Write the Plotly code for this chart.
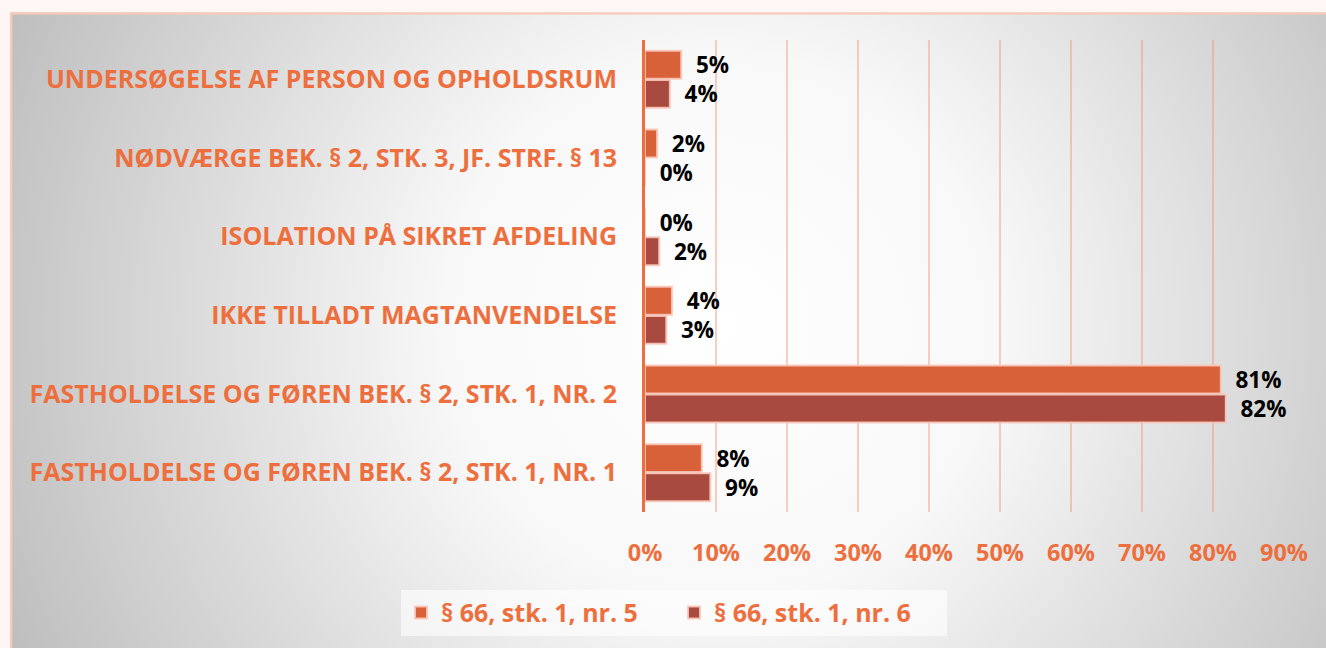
import base64
import plotly.graph_objects as go

categories = [
    "UNDERSØGELSE AF PERSON OG OPHOLDSRUM",
    "NØDVÆRGE BEK. § 2, STK. 3, JF. STRF. § 13",
    "ISOLATION PÅ SIKRET AFDELING",
    "IKKE TILLADT MAGTANVENDELSE",
    "FASTHOLDELSE OG FØREN BEK. § 2, STK. 1, NR. 2",
    "FASTHOLDELSE OG FØREN BEK. § 2, STK. 1, NR. 1",
]
series_names = ["§ 66, stk. 1, nr. 5", "§ 66, stk. 1, nr. 6"]
nr5_values = [5.1, 1.7, 0.0, 3.8, 81.1, 8.0]
nr6_values = [3.5, 0.0, 2.0, 3.0, 81.8, 9.2]
x_ticks = [0, 10, 20, 30, 40, 50, 60, 70, 80, 90]
x_tick_labels = ["0%", "10%", "20%", "30%", "40%", "50%", "60%", "70%", "80%", "90%"]

W, H = 1326, 648
L, R, T, B = 645, 42, 40, 130
pw, ph = W - L - R, H - T - B

ORANGE = "#ee6f3e"
C1 = "#d9613a"
C2 = "#a84a40"
FONT = "Open Sans, Lato, sans-serif"

# background gradient panel (x 10..right edge, y 12..bottom edge, extended past the page)
bx0, by0 = 10, 12
bw, bh = W - bx0 + 10, H - by0 + 10
svg = f'''<svg xmlns="http://www.w3.org/2000/svg" width="{bw}" height="{bh}" viewBox="0 0 {bw} {bh}">
<defs><radialGradient id="g" gradientUnits="userSpaceOnUse" cx="710" cy="318" r="790">
<stop offset="0" stop-color="#ffffff"/><stop offset="0.35" stop-color="#f8f8f8"/>
<stop offset="1" stop-color="#bdbdbd"/></radialGradient></defs>
<rect x="0" y="0" width="{bw}" height="{bh}" fill="url(#g)"/>
<rect x="1" y="1" width="{bw+4}" height="{bh+4}" fill="none" stroke="#f9c9b9" stroke-width="2.5"/>
</svg>'''
uri = "data:image/svg+xml;base64," + base64.b64encode(svg.encode()).decode()

fig = go.Figure()
for name, vals, col in [(series_names[0], nr5_values, C1), (series_names[1], nr6_values, C2)]:
    fig.add_trace(go.Bar(
        y=categories, x=vals, name=name, orientation="h",
        marker=dict(color=col, line=dict(color="rgba(250,200,186,0.9)", width=2)),
        texttemplate="&nbsp;&nbsp;%{x:.0f}%", textposition="outside",
        constraintext="none",
        textfont=dict(family=FONT, size=22.5, color="#000000", weight="bold"),
        cliponaxis=False,
    ))

fig.update_layout(
    width=W, height=H,
    margin=dict(l=L, r=R, t=T, b=B),
    paper_bgcolor="#fff6f5", plot_bgcolor="rgba(0,0,0,0)",
    barmode="group", bargap=0.26, bargroupgap=0.04,
    showlegend=True,
    legend=dict(orientation="h", x=(674 - L) / pw, xanchor="center",
                y=(H - B - 620) / ph, yanchor="middle",
                bgcolor="rgba(255,255,255,0.6)",
                font=dict(family=FONT, size=25, color=ORANGE, weight="bold"),
                entrywidth=228, entrywidthmode="pixels",
                itemwidth=30, traceorder="normal"),
    images=[dict(source=uri, xref="paper", yref="paper",
                 x=(bx0 - L) / pw, y=1 + (T - by0) / ph,
                 sizex=bw / pw, sizey=bh / ph, sizing="stretch",
                 xanchor="left", yanchor="top", layer="below")],
    xaxis=dict(range=[0, 90], tickvals=x_ticks, ticktext=x_tick_labels,
               showgrid=True, gridcolor="rgba(238,150,120,0.45)", gridwidth=2,
               zeroline=False, showline=False,
               tickfont=dict(family=FONT, size=23.5, color=ORANGE, weight="bold"),
               ticklabelstandoff=24),
    yaxis=dict(autorange="reversed", showline=True, linecolor=ORANGE, linewidth=3,
               tickfont=dict(family=FONT, size=25, color=ORANGE, weight="bold"),
               ticklabelstandoff=20, showgrid=False),
)

fig.write_html("out.html", config={"displayModeBar": False},
               post_script="document.body.style.margin='0';")
